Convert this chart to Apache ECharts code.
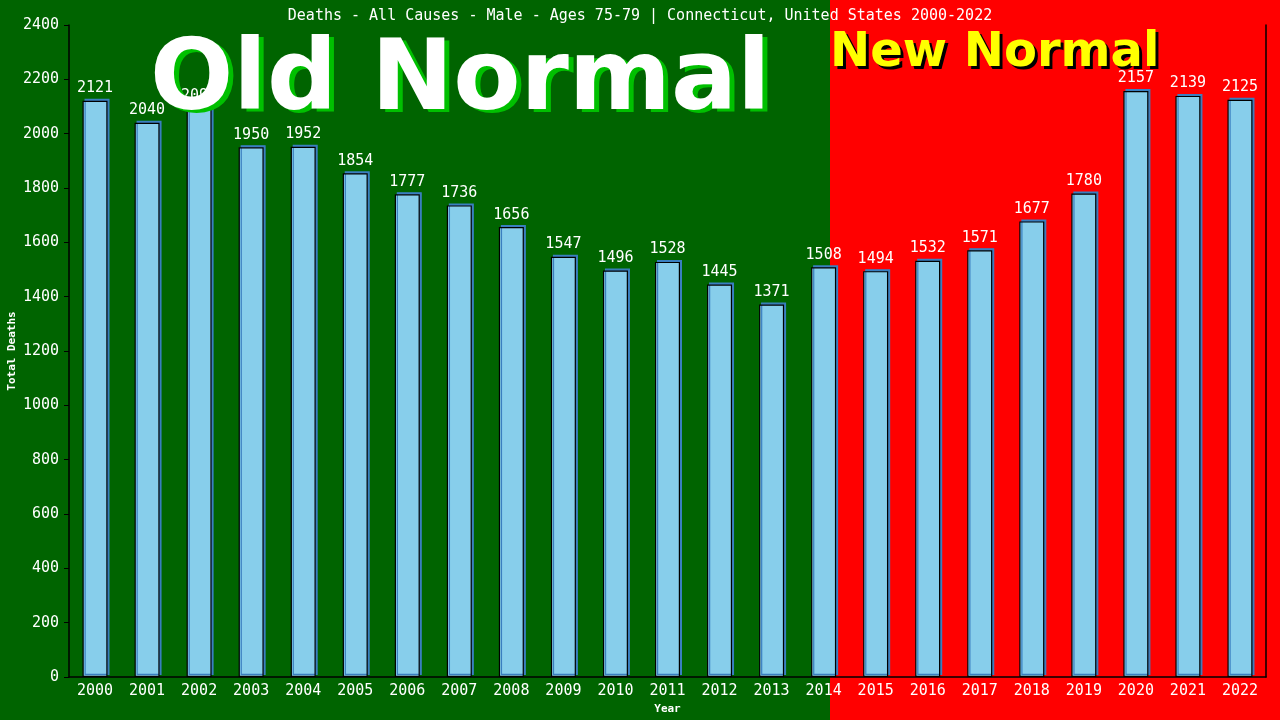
<!DOCTYPE html>
<html>
<head>
<meta charset="utf-8">
<script src="https://cdn.jsdelivr.net/npm/echarts@6/dist/echarts.min.js"></script>
<style>
    html, body { margin: 0; padding: 0; background: #006400; }
    #chart { width: 1280px; height: 720px; }
</style>
</head>
<body>
<div id="chart"></div>
<script>
var years = ["2000", "2001", "2002", "2003", "2004", "2005", "2006", "2007", "2008", "2009", "2010", "2011",
             "2012", "2013", "2014", "2015", "2016", "2017", "2018", "2019", "2020", "2021", "2022"];
var deaths = [2121, 2040, 2094, 1950, 1952, 1854, 1777, 1736, 1656, 1547, 1496, 1528,
              1445, 1371, 1508, 1494, 1532, 1571, 1677, 1780, 2157, 2139, 2125];
var yTicks = [0, 200, 400, 600, 800, 1000, 1200, 1400, 1600, 1800, 2000, 2200, 2400];

var titleText = "Deaths - All Causes - Male - Ages 75-79 | Connecticut, United States 2000-2022";
var mono = "'DejaVu Sans Mono', monospace";
var bigFont = "'DejaVu Sans', sans-serif";

var chart = echarts.init(document.getElementById("chart"));

// big overlay word with a hard offset copy behind it
function banner(text, x, y, size, fill, shadow, dx, dy) {
    return [{
        type: "text", z: 99, silent: true, left: x + dx, top: y + dy,
        style: { text: text, fill: shadow, font: "bold " + size + "px " + bigFont }
    }, {
        type: "text", z: 100, silent: true, left: x, top: y,
        style: { text: text, fill: fill, font: "bold " + size + "px " + bigFont }
    }];
}

var option = {
    backgroundColor: "#006400",
    animation: false,
    title: {
        text: titleText,
        left: "center",
        top: 4,
        textStyle: { color: "#fff", fontFamily: mono, fontSize: 15, fontWeight: "normal" }
    },
    grid: { left: 69, right: 14, top: 25, bottom: 43, containLabel: false, outerBoundsMode: "none" },
    xAxis: {
        type: "category",
        data: years,
        name: "Year",
        nameLocation: "middle",
        nameGap: 27,
        nameMoveOverlap: false,
        nameTextStyle: { color: "#fff", fontFamily: mono, fontSize: 11, fontWeight: "bold" },
        axisLine: { lineStyle: { color: "#000", width: 1.5 } },
        axisTick: { show: false },
        axisLabel: { color: "#fff", fontFamily: mono, fontSize: 15, margin: 7, interval: 0 }
    },
    yAxis: [{
        type: "value",
        min: yTicks[0],
        max: yTicks[yTicks.length - 1],
        interval: 200,
        name: "Total Deaths",
        nameLocation: "middle",
        nameGap: 51,
        nameMoveOverlap: false,
        nameTextStyle: { color: "#fff", fontFamily: mono, fontSize: 11, fontWeight: "bold" },
        axisLine: { show: true, lineStyle: { color: "#000", width: 1.5 } },
        axisTick: { show: true, length: 5, lineStyle: { color: "#000" } },
        axisLabel: {
            color: "#fff", fontFamily: mono, fontSize: 15, margin: 10,
            formatter: function(v) { return String(v); }
        },
        splitLine: { show: false }
    }, {
        type: "value",
        position: "right",
        min: yTicks[0],
        max: yTicks[yTicks.length - 1],
        axisLine: { show: true, lineStyle: { color: "#000", width: 1.5 } },
        axisTick: { show: false },
        axisLabel: { show: false },
        splitLine: { show: false }
    }],
    series: [{
        type: "bar",
        data: deaths,
        barWidth: 25,
        z: 3,
        itemStyle: {
            color: "#87CEEB",
            borderColor: "#000",
            borderWidth: 1.2,
            shadowColor: "#3a7fc0",
            shadowOffsetX: 2,
            shadowOffsetY: -2,
            shadowBlur: 0
        },
        label: {
            show: true,
            position: "top",
            distance: 5,
            color: "#fff",
            fontFamily: mono,
            fontSize: 15
        }
    }],
    graphic: [{
        type: "rect",
        z: -100,
        silent: true,
        shape: { x: 830, y: 0, width: 450, height: 720 },
        style: { fill: "#ff0000" }
    }].concat(
        banner("Old Normal", 150, 35, 98, "#fff", "#00c000", 5, 3),
        banner("New Normal", 830, 30, 48, "#ffff00", "#000", 3, 3)
    )
};

chart.setOption(option);
</script>
</body>
</html>
